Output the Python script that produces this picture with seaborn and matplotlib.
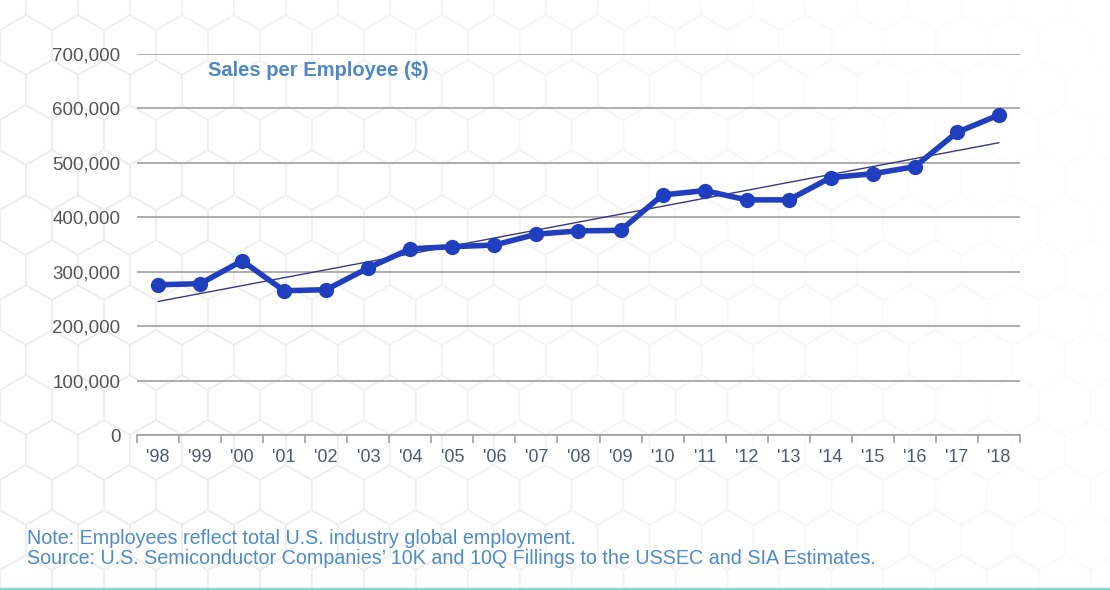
import numpy as np
import pandas as pd
import matplotlib
matplotlib.use("Agg")
import matplotlib.pyplot as plt
from matplotlib.patches import RegularPolygon
from matplotlib.ticker import FuncFormatter, FixedLocator
import seaborn as sns

years = ["'98", "'99", "'00", "'01", "'02", "'03", "'04", "'05", "'06", "'07", "'08",
         "'09", "'10", "'11", "'12", "'13", "'14", "'15", "'16", "'17", "'18"]
sales_per_employee = [276000, 278000, 320000, 265000, 267000, 307000, 342000, 346000,
                      349000, 369000, 375000, 376000, 441000, 449000, 432000, 432000,
                      473000, 480000, 493000, 556000, 588000]
y_ticks = [0, 100000, 200000, 300000, 400000, 500000, 600000, 700000]

df = pd.DataFrame({"idx": np.arange(len(years)), "value": sales_per_employee})

sns.set_theme(style="white")
plt.rcParams["font.family"] = ["Liberation Sans", "DejaVu Sans"]

fig = plt.figure(figsize=(11.1, 5.9), dpi=100)
fig.patch.set_facecolor("white")

# faint honeycomb backdrop, fading towards the right
bg = fig.add_axes([0, 0, 1, 1], zorder=-10)
bg.set_xlim(0, 1110)
bg.set_ylim(590, 0)
bg.axis("off")
r = 30
dx = r * np.sqrt(3)
for row in range(-1, 14):
    for col in range(-1, 25):
        cx = col * dx + (dx / 2 if row % 2 else 0)
        cy = row * r * 1.5
        fade = min(1.0, max(0.0, 1 - cx / 1100 + 0.25 * cy / 590))
        shade = 1 - 0.07 * fade
        bg.add_patch(RegularPolygon((cx, cy), numVertices=6, radius=r,
                                    orientation=0, fill=False,
                                    edgecolor=(shade, shade, shade), lw=1.1))
bg.plot([0, 1110], [588.5, 588.5], color="#86d6da", lw=2.5)

ax = fig.add_axes([137 / 1110, 1 - 435 / 590, (1020 - 137) / 1110, (435 - 54) / 590])
ax.set_facecolor("none")

# linear trend
coef = np.polyfit(df["idx"], df["value"], 1)
trend = np.polyval(coef, df["idx"])
ax.plot(df["idx"], trend, color="#3a3a7a", lw=1.0, zorder=3)

sns.lineplot(data=df, x="idx", y="value", ax=ax, color="#1f3fbf", lw=4,
             marker="o", markersize=11, markeredgewidth=0, zorder=4)

ax.set_xlim(-0.5, len(years) - 0.5)
ax.set_ylim(0, 700000)
ax.set_yticks(y_ticks)
ax.yaxis.set_major_formatter(FuncFormatter(lambda v, p: f"{int(v):,}"))
ax.set_xticks(df["idx"])
ax.set_xticklabels(years)
ax.xaxis.set_minor_locator(FixedLocator(np.arange(-0.5, len(years), 1.0)))
ax.tick_params(axis="x", which="major", length=0, pad=10, labelsize=13, labelcolor="#4c5a6e")
ax.tick_params(axis="x", which="minor", length=6, width=1.2, color="#a0a0a0", direction="out", bottom=True)
ax.tick_params(axis="y", length=0, pad=12, labelsize=13.5, labelcolor="#555555")
ax.grid(axis="y", color="#a0a0a0", lw=1.2)
ax.set_axisbelow(True)
for s in ["top", "right", "left"]:
    ax.spines[s].set_visible(False)
ax.spines["bottom"].set_color("#a0a0a0")
ax.spines["bottom"].set_linewidth(1.2)
ax.set_xlabel("")
ax.set_ylabel("")

fig.text(208 / 1110, 1 - 70 / 590, "Sales per Employee ($)", fontsize=14.5, fontweight="bold",
         color="#4f88c2", va="center", ha="left")
fig.text(27 / 1110, 1 - 538 / 590, "Note: Employees reflect total U.S. industry global employment.",
         fontsize=14.2, color="#4f8cc6", va="center", ha="left")
fig.text(27 / 1110, 1 - 559 / 590,
         "Source: U.S. Semiconductor Companies’ 10K and 10Q Fillings to the USSEC and SIA Estimates.",
         fontsize=14.2, color="#4f8cc6", va="center", ha="left")

fig.savefig("out.png", dpi=100)
